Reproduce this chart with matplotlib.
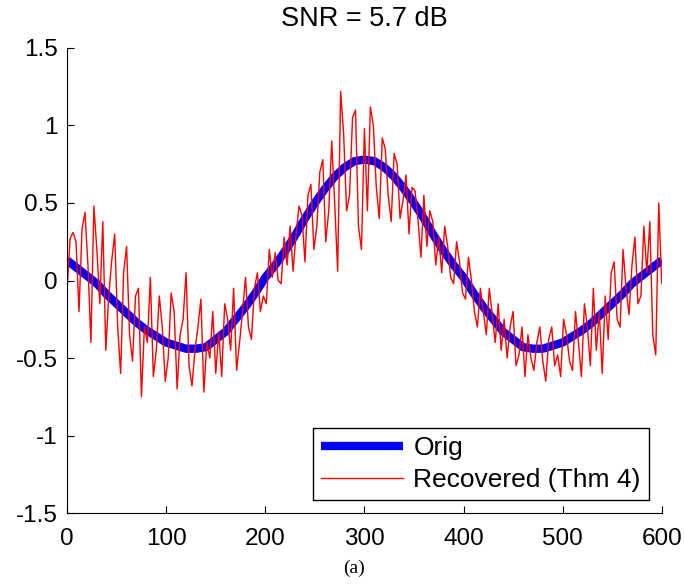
import numpy as np
import matplotlib.pyplot as plt

plt.rcParams['font.family'] = ['Liberation Sans', 'DejaVu Sans']
plt.rcParams['axes.unicode_minus'] = False

# original signal, read every 10 samples
orig_x = list(range(0, 601, 10))
orig_y = [0.13, 0.08, 0.03, -0.02, -0.09, -0.15, -0.21, -0.27, -0.32, -0.36,
          -0.40, -0.42, -0.44, -0.44, -0.43, -0.38, -0.33, -0.25, -0.17, -0.08,
          0.02, 0.10, 0.19, 0.29, 0.40, 0.50, 0.59, 0.67, 0.73, 0.77,
          0.78, 0.77, 0.73, 0.67, 0.59, 0.50, 0.40, 0.29, 0.19, 0.10,
          0.02, -0.08, -0.17, -0.25, -0.33, -0.38, -0.43, -0.44, -0.44, -0.42,
          -0.40, -0.36, -0.32, -0.27, -0.21, -0.15, -0.09, -0.02, 0.03, 0.08,
          0.13]

# recovered signal, read every 3 samples
rec_x = list(range(0, 601, 3))
rec_y = [-0.05, 0.27, 0.31, 0.25, -0.20, 0.33, 0.44, 0.10, -0.40, 0.48,
         0.20, -0.15, 0.38, -0.45, -0.10, 0.13, 0.30, -0.30, -0.60, 0.05,
         0.22, -0.35, -0.52, -0.10, -0.05, -0.75, -0.30, -0.40, 0.02, -0.62,
         -0.45, -0.10, -0.30, -0.65, -0.50, -0.08, -0.20, -0.70, -0.35, -0.25,
         0.05, -0.55, -0.68, -0.45, -0.30, -0.12, -0.72, -0.40, -0.50, -0.20,
         -0.60, -0.33, -0.62, -0.15, -0.25, -0.45, -0.05, -0.58, -0.40, -0.20,
         0.02, -0.30, -0.38, -0.05, 0.05, -0.20, -0.10, -0.15, 0.20, 0.02,
         0.18, 0.00, -0.02, 0.28, 0.10, 0.35, 0.06, 0.30, 0.48, 0.42,
         0.12, 0.55, 0.62, 0.20, 0.35, 0.70, 0.78, 0.25, 0.45, 0.90,
         0.50, 0.06, 1.22, 0.95, 0.45, 0.55, 1.05, 1.10, 0.35, 0.20,
         0.98, 0.45, 1.12, 1.00, 0.60, 0.40, 0.92, 0.85, 0.55, 0.38,
         0.82, 0.75, 0.40, 0.52, 0.68, 0.30, 0.60, 0.58, 0.40, 0.15,
         0.55, 0.22, 0.45, 0.38, 0.10, 0.28, 0.05, 0.35, 0.22, 0.02,
         -0.02, 0.25, 0.12, -0.08, -0.12, 0.15, 0.00, -0.20, -0.30, -0.05,
         -0.20, -0.35, -0.05, -0.22, -0.40, -0.15, -0.45, -0.25, -0.50, -0.30,
         -0.20, -0.55, -0.48, -0.30, -0.62, -0.35, -0.50, -0.58, -0.40, -0.30,
         -0.52, -0.65, -0.38, -0.30, -0.55, -0.48, -0.62, -0.25, -0.35, -0.52,
         -0.58, -0.20, -0.40, -0.62, -0.15, -0.30, -0.55, -0.05, -0.45, -0.20,
         -0.60, -0.10, -0.38, 0.05, 0.12, -0.25, -0.30, 0.20, -0.05, -0.22,
         0.10, 0.28, -0.15, -0.10, 0.35, 0.05, 0.38, -0.35, -0.48, 0.50,
         -0.02]

fig = plt.figure(figsize=(6.85, 5.85), dpi=100)
ax = fig.add_axes([0.098, 0.123, 0.868, 0.795])

ax.plot(orig_x, orig_y, color='#0000ff', linewidth=6, label='Orig',
        solid_capstyle='butt', solid_joinstyle='round')
ax.plot(rec_x, rec_y, color='#ff0000', linewidth=1.0, label='Recovered (Thm 4)')

ax.set_xlim(0, 600)
ax.set_ylim(-1.5, 1.5)
ax.set_xticks([0, 100, 200, 300, 400, 500, 600])
ax.set_yticks([-1.5, -1, -0.5, 0, 0.5, 1, 1.5])
ax.set_yticklabels(['-1.5', '-1', '-0.5', '0', '0.5', '1', '1.5'])
ax.spines['top'].set_visible(False)
ax.spines['right'].set_visible(False)
ax.tick_params(direction='in', length=5, labelsize=17.5)
ax.tick_params(axis='x', pad=10.5)
ax.tick_params(axis='y', pad=7)

ax.set_title('SNR = 5.7 dB', fontsize=19.5, pad=16)

leg = ax.legend(loc='lower right', bbox_to_anchor=(0.978, 0.028), fontsize=19,
                fancybox=False, edgecolor='black', framealpha=1,
                handlelength=3.1, borderaxespad=0, labelspacing=0.3,
                borderpad=0.3, handletextpad=0.4)
leg.get_frame().set_linewidth(1.0)

fig.text(0.517, 0.02, '(a)', family='Liberation Serif', fontsize=14, ha='center')

plt.savefig('out.png', dpi=100)
